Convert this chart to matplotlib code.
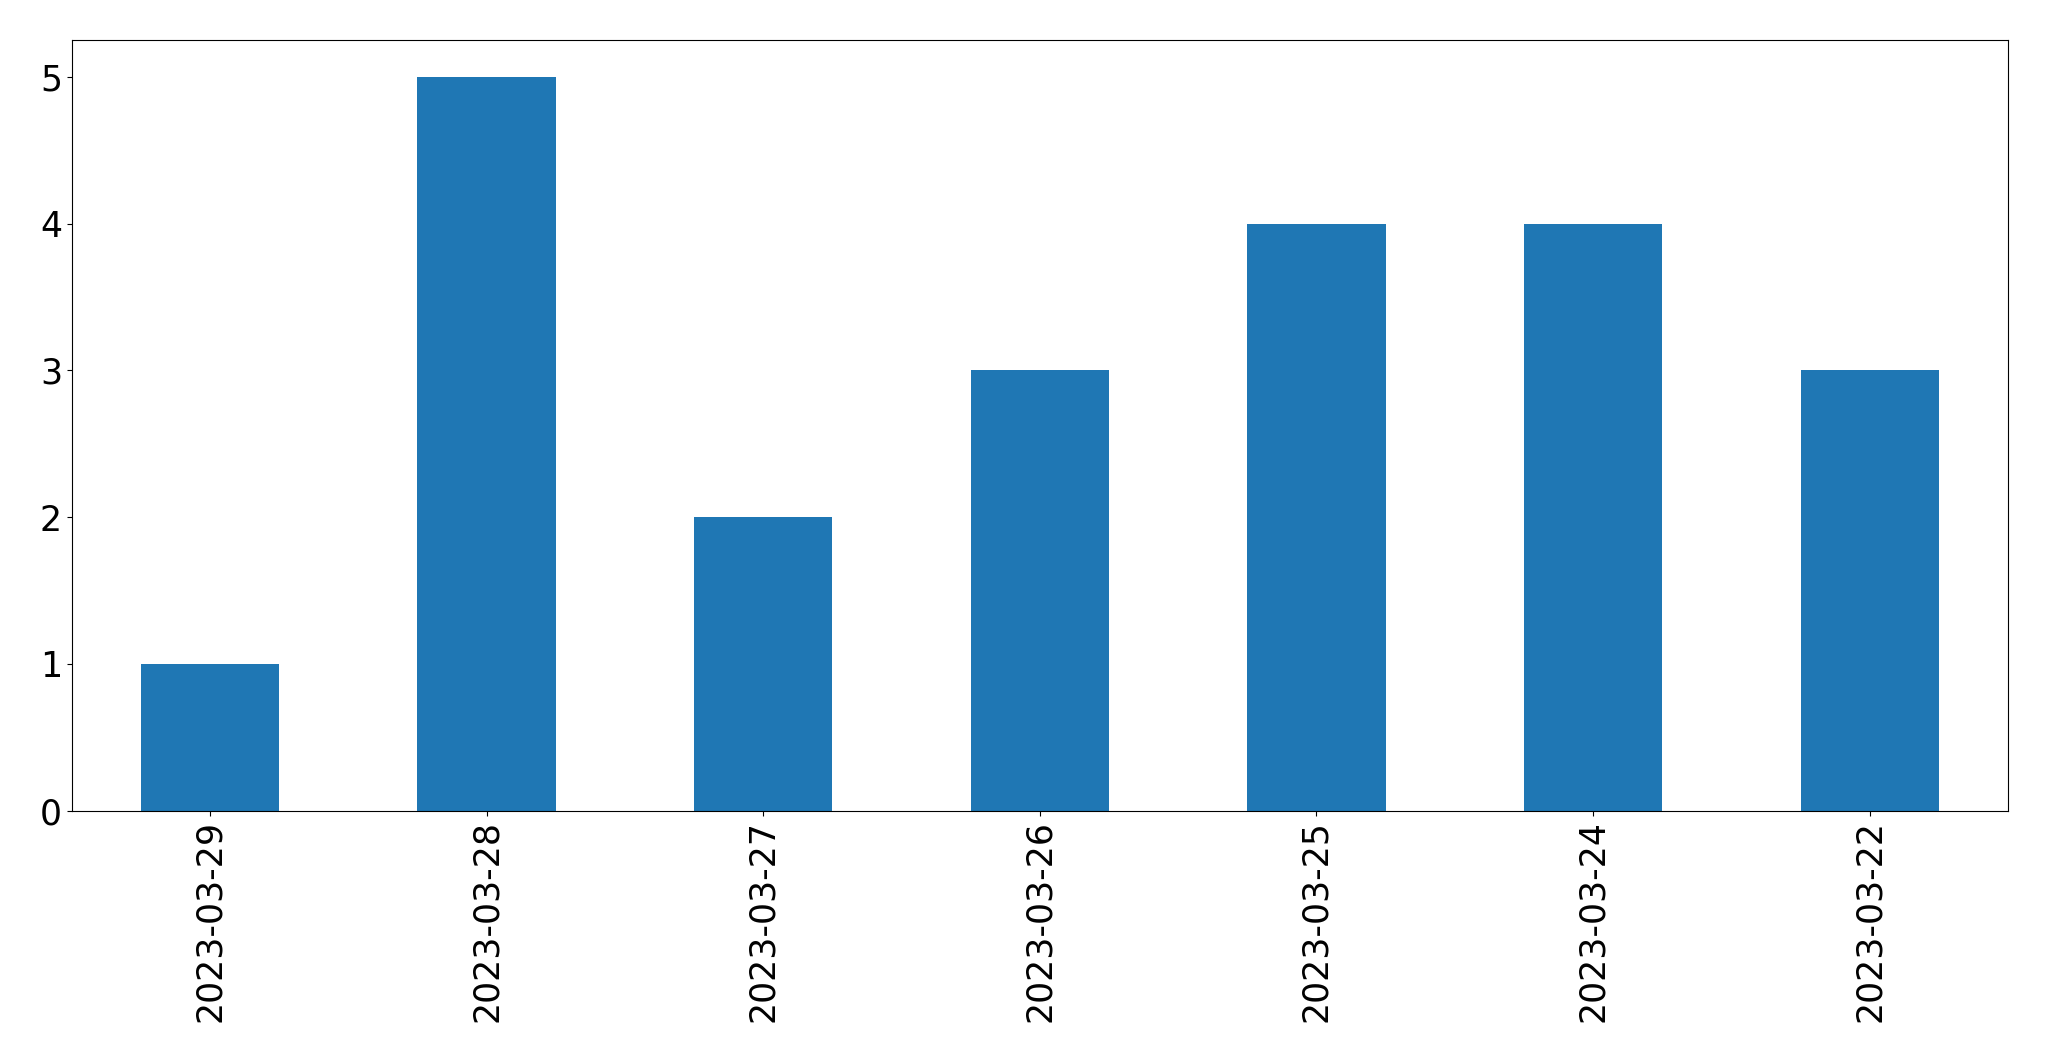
import matplotlib
matplotlib.use("Agg")
import matplotlib.pyplot as plt
import numpy as np

dates = ["2023-03-29", "2023-03-28", "2023-03-27", "2023-03-26",
         "2023-03-25", "2023-03-24", "2023-03-22"]
counts = [1, 5, 2, 3, 4, 4, 3]

fig, ax = plt.subplots(figsize=(20.49, 10.61), dpi=100)
x = np.arange(len(dates))
ax.bar(x, counts, width=0.5, color="#1f77b4")
ax.set_xticks(x)
ax.set_xticklabels(dates, rotation=90)
ax.set_xlim(-0.5, len(dates) - 0.5)
ax.set_ylim(0, 5.25)
ax.tick_params(labelsize=25)

fig.subplots_adjust(left=0.035, right=0.98, top=0.962, bottom=0.236)
fig.savefig("out.png", dpi=100)
